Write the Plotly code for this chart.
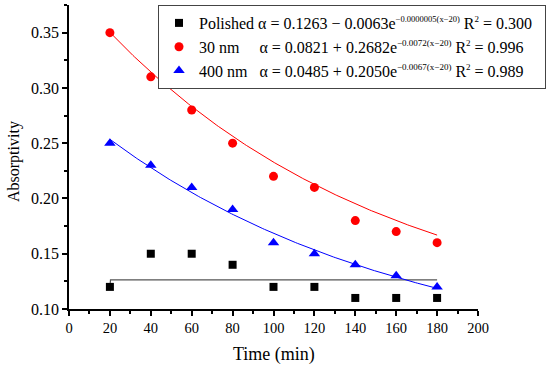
import numpy as np
import plotly.graph_objects as go

time = [20, 40, 60, 80, 100, 120, 140, 160, 180]
polished = [0.12, 0.15, 0.15, 0.14, 0.12, 0.12, 0.11, 0.11, 0.11]
nm30 = [0.35, 0.31, 0.28, 0.25, 0.22, 0.21, 0.18, 0.17, 0.16]
nm400 = [0.25, 0.23, 0.21, 0.19, 0.16, 0.15, 0.14, 0.13, 0.12]

# fit parameters (a, b, k): alpha = a + b*exp(-k(x-20))
fit30 = (0.0821, 0.2682, 0.0072)
fit400 = (0.0485, 0.2050, 0.0067)
# polished fit as drawn (nearly flat line)
pol_fit_x = [20, 20.3, 180]
pol_fit_y = [0.12, 0.1263, 0.1263]

xs = np.linspace(20, 180, 200)
def curve(p):
    a, b, k = p
    return a + b * np.exp(-k * (xs - 20))

FONT = "Times New Roman, Liberation Serif, serif"
NB = "\u00a0"
def sup(t, s=9):
    return '<sup><span style="font-size:%spx">' % s + t + '</span></sup>'

fig = go.Figure()

fig.add_trace(go.Scatter(x=pol_fit_x, y=pol_fit_y, mode="lines",
                         line=dict(color="#555555", width=1.2), showlegend=False))
fig.add_trace(go.Scatter(x=xs, y=curve(fit30), mode="lines",
                         line=dict(color="red", width=1), showlegend=False))
fig.add_trace(go.Scatter(x=xs, y=curve(fit400), mode="lines",
                         line=dict(color="blue", width=1), showlegend=False))

fig.add_trace(go.Scatter(x=time, y=polished, mode="markers",
                         marker=dict(symbol="square", size=8, color="black"),
                         name="Polished α = 0.1263 − 0.0063e" + sup("−0.0000005(x−20)", 8.5) + " R" + sup("2") + " = 0.300" + NB * 2))
fig.add_trace(go.Scatter(x=time, y=nm30, mode="markers",
                         marker=dict(symbol="circle", size=9, color="red"),
                         name="30 nm" + NB * 5 + "α = 0.0821 + 0.2682e" + sup("−0.0072(x−20)") + " R" + sup("2") + " = 0.996"))
fig.add_trace(go.Scatter(x=time, y=nm400, mode="markers",
                         marker=dict(symbol="triangle-up", size=10, color="blue"),
                         name="400 nm" + NB * 3 + "α = 0.0485 + 0.2050e" + sup("−0.0067(x−20)") + " R" + sup("2") + " = 0.989"))

axis_common = dict(showline=True, linecolor="black", linewidth=1.5, ticks="outside",
                   ticklen=5, tickwidth=1.5, tickcolor="black", showgrid=False,
                   zeroline=False, mirror=False)

fig.update_xaxes(range=[0, 200], dtick=20, tick0=0, tickangle=0,
                 tickfont=dict(family=FONT, size=14.5, color="black"),
                 minor=dict(ticks="outside", ticklen=3, tickwidth=1.5, tickcolor="black", dtick=10),
                 **axis_common)
fig.update_yaxes(range=[0.10, 0.375], dtick=0.05, tick0=0.10, tickformat=".2f",
                 tickfont=dict(family=FONT, size=16, color="black"),
                 minor=dict(ticks="outside", ticklen=3, tickwidth=1.5, tickcolor="black", dtick=0.025),
                 **axis_common)

fig.add_annotation(text="Time (min)", xref="paper", yref="paper", x=(274 - 69) / 409, y=0,
                   xanchor="center", yanchor="middle", yshift=-45, showarrow=False,
                   font=dict(family=FONT, size=18, color="black"))
fig.add_annotation(text="Absorptivity", xref="paper", yref="paper", x=0, y=(309 - 162) / 304,
                   xanchor="center", yanchor="middle", xshift=-55, textangle=-90, showarrow=False,
                   font=dict(family=FONT, size=16, color="black"))

fig.update_layout(
    width=550, height=371,
    margin=dict(l=69, r=72, t=5, b=62, autoexpand=False),
    plot_bgcolor="white", paper_bgcolor="white",
    font=dict(family=FONT, color="black"),
    legend=dict(xref="container", yref="container", x=158 / 550, y=1 - 5 / 371,
                xanchor="left", yanchor="top",
                bordercolor="#444444", borderwidth=1, bgcolor="white",
                font=dict(family=FONT, size=16, color="black"),
                tracegroupgap=0, itemwidth=30),
)

fig.write_html("out.html", config={"displayModeBar": False},
               post_script="document.body.style.margin='0';")
